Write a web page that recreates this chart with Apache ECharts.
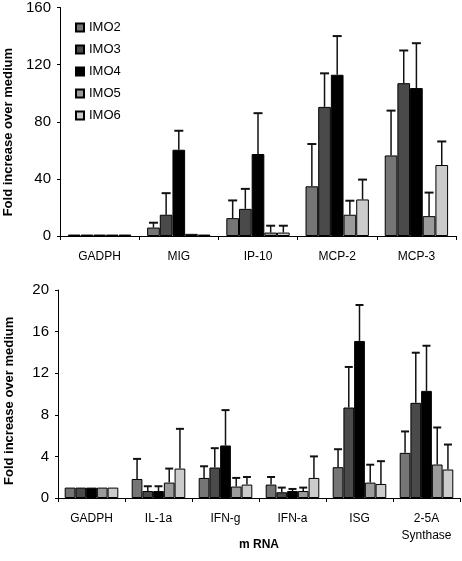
<!DOCTYPE html>
<html><head><meta charset="utf-8">
<script src="https://cdn.jsdelivr.net/npm/echarts@6/dist/echarts.min.js"></script>
<style>html,body{margin:0;padding:0;background:#fff}#c{width:462px;height:561px}</style>
</head><body><div id="c"></div>
<script>
var seriesNames = ['IMO2','IMO3','IMO4','IMO5','IMO6'];
var colors = ['#757575','#4a4a4a','#000000','#9b9b9b','#cbcbcb'];

var cats1 = ['GADPH','MIG','IP-10','MCP-2','MCP-3'];
var top_IMO2 = [1, 5.9, 12.5, 34.8, 56.4];
var top_IMO3 = [1, 14.9, 19, 90.4, 107];
var top_IMO4 = [1, 60.4, 57.4, 112.9, 103.6];
var top_IMO5 = [1, 1.5, 2.4, 14.9, 13.9];
var top_IMO6 = [1, 1, 2.4, 25.6, 49.7];
var topErr_IMO2 = [0, 3.4, 12.4, 29.6, 31.4];
var topErr_IMO3 = [0, 15.1, 14, 23.5, 22.9];
var topErr_IMO4 = [0, 13.3, 28.6, 27.1, 31.4];
var topErr_IMO5 = [0, 0, 4.8, 9.8, 16.5];
var topErr_IMO6 = [0, 0, 4.8, 13.9, 16.5];
var ticks1 = [0, 40, 80, 120, 160];

var cats2 = ['GADPH','IL-1a','IFN-g','IFN-a','ISG','2-5A\nSynthase'];
var bot_IMO2 = [1, 1.83, 1.93, 1.29, 2.96, 4.34];
var bot_IMO3 = [1, 0.67, 2.93, 0.55, 8.7, 9.15];
var bot_IMO4 = [1, 0.67, 5.05, 0.67, 15.1, 10.3];
var bot_IMO5 = [1, 1.48, 1.1, 0.67, 1.48, 3.22];
var bot_IMO6 = [1, 2.83, 1.29, 1.93, 1.35, 2.74];
var botErr_IMO2 = [0, 1.93, 1.12, 0.73, 1.73, 2.06];
var botErr_IMO3 = [0, 0.46, 1.86, 0.45, 3.9, 4.82];
var botErr_IMO4 = [0, 0.46, 3.4, 0.2, 3.46, 4.34];
var botErr_IMO5 = [0, 1.35, 0.83, 0.33, 1.72, 3.56];
var botErr_IMO6 = [0, 3.82, 0.73, 2.07, 2.19, 2.4];
var ticks2 = [0, 4, 8, 12, 16, 20];

var topVals = [top_IMO2, top_IMO3, top_IMO4, top_IMO5, top_IMO6];
var topErrs = [topErr_IMO2, topErr_IMO3, topErr_IMO4, topErr_IMO5, topErr_IMO6];
var botVals = [bot_IMO2, bot_IMO3, bot_IMO4, bot_IMO5, bot_IMO6];
var botErrs = [botErr_IMO2, botErr_IMO3, botErr_IMO4, botErr_IMO5, botErr_IMO6];

var FONT = '"Liberation Sans", Arial, sans-serif';
var nS = seriesNames.length;
var catGap = 0.2;

function errSeries(gridIdx, vals, errs, k, capW) {
  var data = [];
  for (var j = 0; j < vals.length; j++) {
    if (errs[j] > 0) data.push([j, vals[j], errs[j]]);
  }
  return {
    type: 'custom', xAxisIndex: gridIdx, yAxisIndex: gridIdx, z: 5,
    silent: true, legendHoverLink: false,
    data: data,
    renderItem: function (params, api) {
      var idx = api.value(0), v = api.value(1), e = api.value(2);
      var band = api.size([1, 0])[0];
      var barW = band * (1 - catGap) / nS;
      var cx = api.coord([idx, v])[0] - band * (1 - catGap) / 2 + barW * (k + 0.5);
      var y0 = api.coord([idx, v])[1];
      var y1 = api.coord([idx, v + e])[1];
      var st = { stroke: '#111', lineWidth: 1.5 };
      return { type: 'group', children: [
        { type: 'line', shape: { x1: cx, y1: y0, x2: cx, y2: y1 }, style: st },
        { type: 'line', shape: { x1: cx - capW / 2, y1: y1, x2: cx + capW / 2, y2: y1 }, style: { stroke: '#111', lineWidth: 2 } }
      ]};
    }
  };
}

var series = [];
for (var k = 0; k < nS; k++) {
  series.push({
    name: seriesNames[k], type: 'bar', xAxisIndex: 0, yAxisIndex: 0,
    data: topVals[k], barGap: '0%', barCategoryGap: '20%',
    itemStyle: { color: colors[k], borderColor: '#000', borderWidth: 1 }
  });
}
for (var k = 0; k < nS; k++) {
  series.push({
    name: seriesNames[k], type: 'bar', xAxisIndex: 1, yAxisIndex: 1,
    data: botVals[k], barGap: '0%', barCategoryGap: '20%',
    itemStyle: { color: colors[k], borderColor: '#000', borderWidth: 1 }
  });
}
for (var k = 0; k < nS; k++) series.push(errSeries(0, topVals[k], topErrs[k], k, 9));
for (var k = 0; k < nS; k++) series.push(errSeries(1, botVals[k], botErrs[k], k, 8));

function xAx(gi, cats) {
  return {
    type: 'category', gridIndex: gi, data: cats,
    axisLine: { lineStyle: { color: '#000', width: 1 } },
    axisTick: { show: true, length: 4, lineStyle: { color: '#000' } },
    axisLabel: { color: '#000', fontFamily: FONT, fontSize: 12, margin: 12, lineHeight: 17, interval: 0 }
  };
}
function yAx(gi, ticks) {
  return {
    type: 'value', gridIndex: gi, min: ticks[0], max: ticks[ticks.length - 1],
    interval: ticks[1] - ticks[0],
    axisLine: { show: true, lineStyle: { color: '#000', width: 1 } },
    axisTick: { show: true, length: 3, lineStyle: { color: '#000' } },
    splitLine: { show: false },
    axisLabel: { color: '#000', fontFamily: FONT, fontSize: 15, margin: 9 }
  };
}

var chart = echarts.init(document.getElementById('c'), null, { renderer: 'canvas' });
chart.setOption({
  animation: false,
  backgroundColor: '#fff',
  grid: [
    { left: 60, right: 6, top: 7, height: 229 },
    { left: 58, right: 2, top: 290, height: 208 }
  ],
  legend: {
    data: seriesNames, orient: 'vertical', left: 70, top: 16,
    itemWidth: 8, itemHeight: 8, itemGap: 9, icon: 'rect',
    textStyle: { color: '#000', fontFamily: FONT, fontSize: 13 }
  },
  xAxis: [xAx(0, cats1), xAx(1, cats2)],
  yAxis: [yAx(0, ticks1), yAx(1, ticks2)],
  graphic: [
    { type: 'text', left: 2, top: 48, rotation: Math.PI / 2,
      style: { text: 'Fold increase over medium', font: 'bold 13px ' + FONT, fill: '#000' } },
    { type: 'text', x: 3, y: 485, rotation: Math.PI / 2,
      style: { text: 'Fold increase over medium', font: 'bold 13px ' + FONT, fill: '#000', textVerticalAlign: 'top' } },
    { type: 'text', x: 259, y: 545,
      style: { text: 'm RNA', font: 'bold 12px ' + FONT, fill: '#000', textAlign: 'center', textVerticalAlign: 'middle' } }
  ],
  series: series
});
</script></body></html>
